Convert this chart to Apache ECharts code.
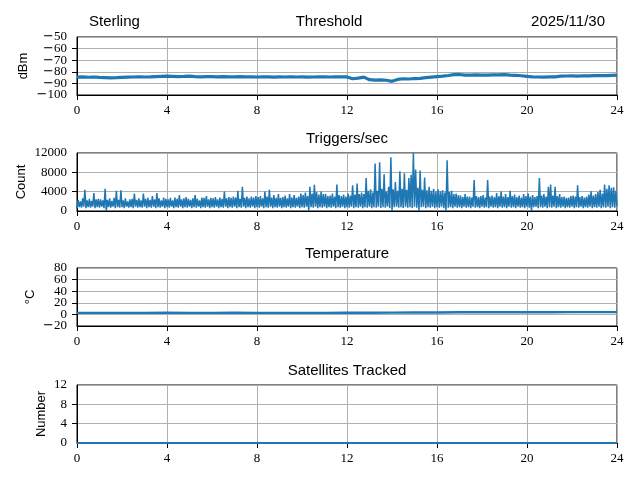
<!DOCTYPE html>
<html>
<head>
<meta charset="utf-8">
<script src="https://cdn.jsdelivr.net/npm/echarts@6/dist/echarts.min.js"></script>
<style>html,body{margin:0;padding:0;background:#fff}#c{width:640px;height:480px}</style>
</head>
<body>
<div id="c"></div>
<script>
// ---- data ----
var stationName = 'Sterling';
var dateText = '2025/11/30';
var panelTitles = ['Threshold', 'Triggers/sec', 'Temperature', 'Satellites Tracked'];
var panelUnits = ['dBm', 'Count', '\u00b0C', 'Number'];
var hourTicks = [0, 4, 8, 12, 16, 20, 24];

// Threshold (dBm), sampled every 0.25 h from 0 to 24
var thresholdStep = 0.25;
var thresholdDbm = [
  -84.6,-84.4,-84.7,-84.5,-84.8,-85.0,-85.3,-85.1,-84.8,-84.6,-84.5,-84.3,-84.5,-84.4,-84.2,-84.0,
  -83.8,-83.9,-84.1,-84.0,-83.8,-84.1,-84.3,-84.2,-84.1,-84.3,-84.2,-84.4,-84.3,-84.2,-84.4,-84.3,
  -84.5,-84.3,-84.4,-84.6,-84.4,-84.5,-84.3,-84.5,-84.4,-84.6,-84.5,-84.4,-84.3,-84.5,-84.4,-84.3,
  -84.4,-86.0,-85.5,-84.6,-86.8,-87.2,-87.0,-87.3,-88.2,-86.6,-86.0,-86.2,-85.8,-85.6,-85.0,-84.6,
  -84.2,-83.8,-83.2,-82.4,-82.3,-82.8,-82.9,-82.7,-82.8,-82.9,-82.7,-82.6,-82.5,-82.8,-83.0,-83.4,
  -84.0,-84.4,-84.5,-84.6,-84.4,-84.3,-83.8,-83.6,-83.5,-83.7,-83.4,-83.5,-83.3,-83.2,-83.3,-83.0,
  -82.9
];

// Triggers per second, sampled every 0.05 h from 0 to 24 (one row per hour)
var triggerStep = 0.05;
var triggerCounts = [
  600,2300,800,2000,700,2600,900,4400,600,2200, 800,2500,700,2100,900,3700,600,2400,800,2500,
  700,2400,900,2200,600,4600,0,2300,800,2600, 700,2100,900,2700,600,4200,800,2300,700,4300,
  800,2200,600,2600,900,2000,700,2400,800,2500, 600,3600,900,2300,700,2600,800,2200,700,3600,
  900,2500,600,2700,800,2300,700,3100,900,2400, 600,3700,800,2600,700,2200,900,2800,600,2500,
  800,2400,700,2700,900,2200,600,2800,800,2500, 700,3300,900,2400,600,2600,800,2900,700,2500,
  900,2300,600,2600,800,3300,700,2500,900,2200, 600,2800,800,2700,700,3100,900,2400,600,2700,
  800,2600,700,2900,900,2400,600,2800,800,2500, 700,4000,900,2600,600,2900,800,2700,700,3000,
  900,2800,600,4200,800,2500,700,5000,900,2700, 600,3000,800,2600,700,3000,900,2800,600,3100,
  800,2900,700,3100,900,2600,600,4000,800,3000, 700,4400,900,2800,600,3300,800,2700,700,3500,
  900,2700,600,2900,800,3200,700,2600,900,3500, 600,2800,800,3300,700,2700,900,3000,600,3600,
  800,3300,700,3800,900,3100,0,5000,800,3600, 700,5400,900,3900,600,3400,800,4000,700,3500,
  900,3500,600,3100,800,3200,700,3600,900,3000, 600,5500,800,3300,700,3100,900,3400,600,3000,
  800,3600,700,3200,900,5300,600,3400,800,5700, 700,3500,900,3800,600,3500,800,6800,700,4200,
  900,4500,600,3800,800,9800,700,4200,900,10100, 600,4600,800,7600,700,4000,900,5000,600,11100,
  0,4500,800,6000,900,4200,700,8200,800,4600, 600,7800,900,4400,700,6800,800,7500,600,12000,
  900,8600,700,4800,0,8400,800,4400,900,6900, 600,4300,800,5000,700,4200,900,4600,600,4000,
  800,4500,700,4100,900,4300,600,3800,0,10500, 700,3900,800,4200,600,3500,900,3600,700,3300,
  800,3200,600,2900,900,3500,700,3000,800,3000, 600,2800,900,6400,700,3100,800,2900,600,3100,
  900,3300,700,2800,800,6400,600,3000,900,3200, 700,2900,800,3700,600,3100,900,4000,700,3000,
  800,3500,600,2900,900,4200,700,3100,800,3400, 600,2900,900,3200,700,2800,800,3500,600,3100,
  900,3600,700,3000,0,3300,800,2900,900,3100, 600,6800,800,3200,700,3500,900,3000,600,5000,
  800,5500,700,3200,900,5000,600,3100,800,3500, 700,2900,900,3000,600,2700,800,2800,700,3100,
  900,3200,600,3000,800,5300,700,2900,900,3100, 600,2800,800,3000,700,3400,900,4100,600,3200,
  800,3500,700,3900,900,4400,600,3600,800,5500, 700,4600,900,5300,600,4800,800,4900,700,4200,
  1000
];

// Temperature (deg C), hourly
var tempHours = [0,1,2,3,4,5,6,7,8,9,10,11,12,13,14,15,16,17,18,19,20,21,22,23,24];
var tempC = [2.6,2.6,2.7,2.7,2.8,2.7,2.7,2.8,2.7,2.6,2.6,2.7,2.8,2.9,3.0,3.2,3.4,3.6,3.7,3.8,3.8,3.8,3.9,3.9,3.9];

// Satellites tracked, hourly
var satHours = [0,1,2,3,4,5,6,7,8,9,10,11,12,13,14,15,16,17,18,19,20,21,22,23,24];
var satCount = [0,0,0,0,0,0,0,0,0,0,0,0,0,0,0,0,0,0,0,0,0,0,0,0,0];

// y-axis ranges
var yMins = [-100, 0, -20, 0];
var yMaxs = [-50, 12000, 80, 12];
var yIntervals = [10, 4000, 20, 4];

// ---- build ----
function stepped(vals, step) {
  var out = [];
  for (var i = 0; i < vals.length; i++) out.push([+(i * step).toFixed(3), vals[i]]);
  return out;
}
function paired(xs, ys) {
  var out = [];
  for (var i = 0; i < xs.length; i++) out.push([xs[i], ys[i]]);
  return out;
}
var seriesData = [
  stepped(thresholdDbm, thresholdStep),
  stepped(triggerCounts, triggerStep),
  paired(tempHours, tempC),
  paired(satHours, satCount)
];
var lineWidths = [3.2, 1.5, 2.4, 2.2];

var gridTops = [37, 153, 268, 385];
var gridH = 58;
var nameGaps = [47, 49, 40, 29];
var tickFont = 'Liberation Serif';
var sansFont = 'Liberation Sans';
function fmtTick(v) {
  return v < 0 ? '{m|\u2212}{d|' + String(-v) + '}' : '{d|' + String(v) + '}';
}
var tickRich = {
  m: {fontFamily: 'DejaVu Sans', fontSize: 13, color: '#000'},
  d: {fontFamily: tickFont, fontSize: 13, color: '#000'}
};

var grids = [], xAxes = [], yAxes = [], series = [];
for (var k = 0; k < 4; k++) {
  grids.push({left: 77, right: 23, top: gridTops[k], height: gridH, show: true,
    borderColor: '#000', borderWidth: 1, backgroundColor: 'transparent', containLabel: false});
  xAxes.push({type: 'value', gridIndex: k, min: 0, max: 24, interval: 4,
    axisLine: {show: true, onZero: false, lineStyle: {color: '#000', width: 1}},
    axisTick: {show: true, inside: false, length: 5, lineStyle: {color: '#000'}},
    axisLabel: {margin: 9, color: '#000', fontFamily: tickFont, fontSize: 13, hideOverlap: false},
    splitLine: {show: true, lineStyle: {color: '#b0b0b0', width: 1}}});
  // main axis: all ticks, inner labels
  yAxes.push({type: 'value', gridIndex: k, position: 'left', offset: 0,
    min: yMins[k], max: yMaxs[k], interval: yIntervals[k],
    name: panelUnits[k], nameLocation: 'middle', nameRotate: 90, nameGap: nameGaps[k],
    nameTextStyle: {color: '#000', fontFamily: sansFont, fontSize: 13},
    axisLine: {show: true, onZero: false, lineStyle: {color: '#000', width: 1}},
    axisTick: {show: true, inside: false, length: 5, lineStyle: {color: '#000'}},
    axisLabel: {margin: 10, color: '#000', hideOverlap: false,
      showMinLabel: false, showMaxLabel: false, formatter: fmtTick, rich: tickRich},
    splitLine: {show: true, lineStyle: {color: '#b0b0b0', width: 1}}});
}
// companion axes carrying only the end labels (same scale, same place)
for (var m = 0; m < 4; m++) {
  yAxes.push({type: 'value', gridIndex: m, position: 'left', offset: 0,
    min: yMins[m], max: yMaxs[m], interval: yMaxs[m] - yMins[m],
    axisLine: {show: false}, axisTick: {show: false}, splitLine: {show: false},
    axisLabel: {margin: 10, color: '#000', hideOverlap: false,
      showMinLabel: true, showMaxLabel: true, formatter: fmtTick, rich: tickRich}});
}
for (var s = 0; s < 4; s++) {
  series.push({type: 'line', xAxisIndex: s, yAxisIndex: s, data: seriesData[s],
    showSymbol: false, symbol: 'none', animation: false, sampling: null, clip: true,
    lineStyle: {color: '#1f77b4', width: lineWidths[s]}, z: 3});
}

var textEls = [
  {text: stationName, x: 89, y: 22, align: 'left'},
  {text: panelTitles[0], x: 329, y: 22, align: 'center'},
  {text: dateText, x: 605, y: 22, align: 'right'},
  {text: panelTitles[1], x: 347, y: 139, align: 'center'},
  {text: panelTitles[2], x: 347, y: 254, align: 'center'},
  {text: panelTitles[3], x: 347, y: 371, align: 'center'}
];
var graphics = textEls.map(function (t) {
  return {type: 'text', x: t.x, y: t.y, z: 10,
    style: {text: t.text, align: t.align, verticalAlign: 'middle', textAlign: t.align, textVerticalAlign: 'middle',
      font: '15px "' + sansFont + '"', fill: '#000'}};
});

var chart = echarts.init(document.getElementById('c'), null, {renderer: 'canvas'});
chart.setOption({
  animation: false,
  backgroundColor: '#fff',
  grid: grids, xAxis: xAxes, yAxis: yAxes, series: series,
  graphic: graphics
});
</script>
</body>
</html>
